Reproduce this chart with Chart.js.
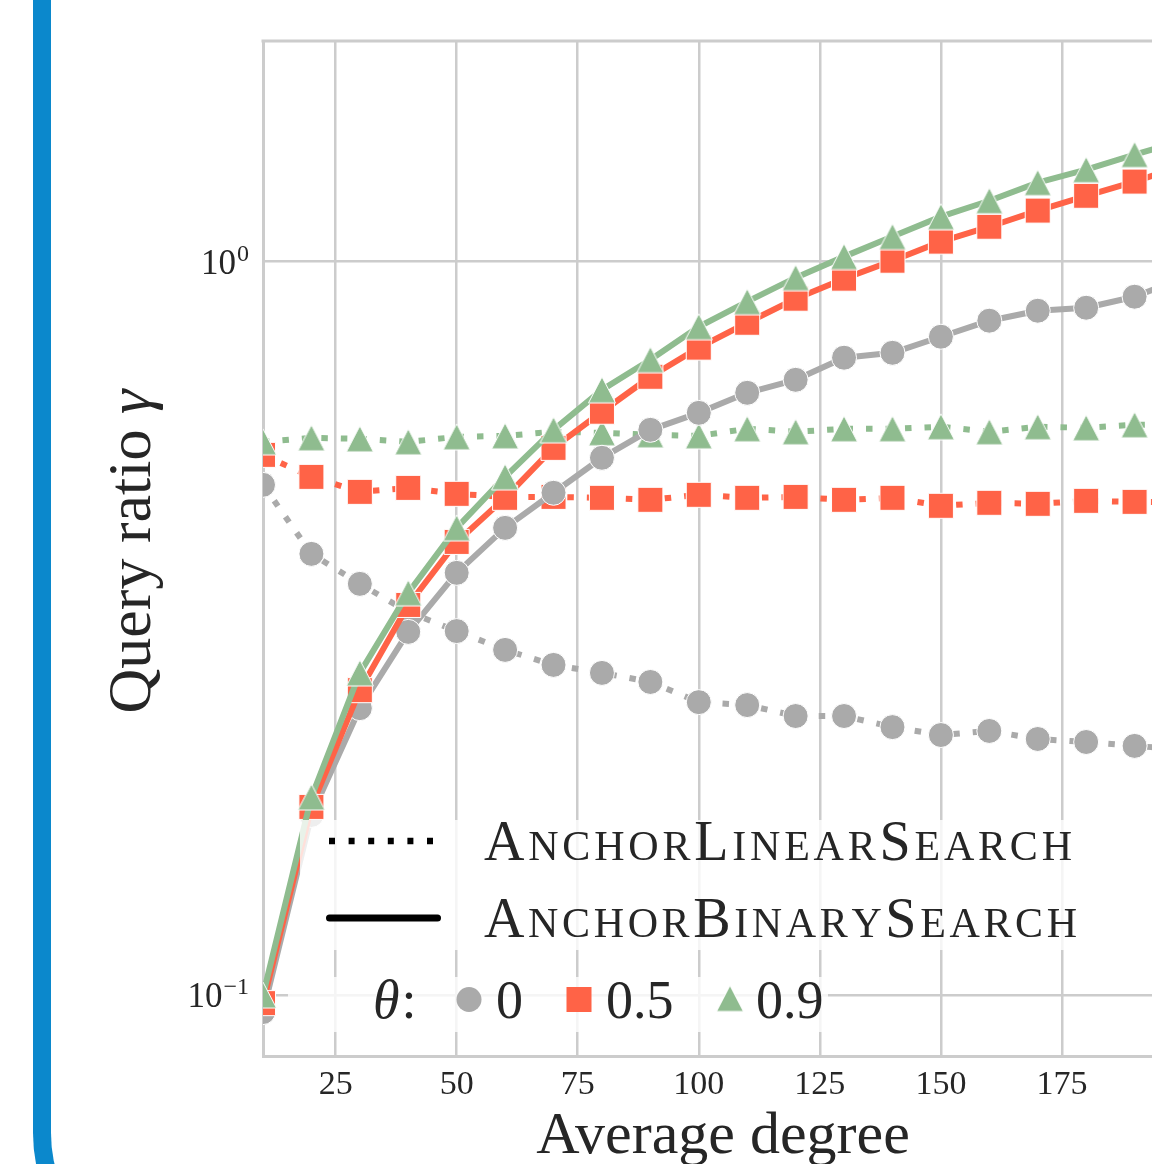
<!DOCTYPE html>
<html>
<head>
<meta charset="utf-8">
<script src="https://cdn.jsdelivr.net/npm/chart.js@4.4.1/dist/chart.umd.min.js"></script>
<style>
  html, body { margin: 0; padding: 0; background: #ffffff; overflow: hidden; width: 1152px; height: 1164px; }
  #frame { position: absolute; left: 33px; top: -40px; width: 1400px; height: 1333px; box-sizing: border-box;
           border-left: 18px solid #0b88cc; border-bottom: 18px solid #0b88cc; border-bottom-left-radius: 160px; }
  #c { position: absolute; left: 0; top: 0; }
</style>
</head>
<body>
<div id="frame"></div>
<canvas id="c" width="1300" height="1200"></canvas>
<script>
// ---------------- data ----------------
const degrees = [10, 20, 30, 40, 50, 60, 70, 80, 90, 100, 110, 120, 130, 140, 150, 160, 170, 180, 190, 200];

// AnchorLinearSearch (dotted)
const linearTheta0  = [0.4961, 0.3994, 0.3635, 0.3328, 0.3134, 0.2954, 0.2818, 0.2748, 0.2671, 0.2507, 0.2484, 0.2400, 0.2400, 0.2318, 0.2261, 0.2290, 0.2233, 0.2212, 0.2185, 0.2160];
const linearTheta05 = [0.5451, 0.5087, 0.4853, 0.4914, 0.4823, 0.4777, 0.4777, 0.4763, 0.4733, 0.4808, 0.4763, 0.4777, 0.4733, 0.4763, 0.4645, 0.4689, 0.4674, 0.4718, 0.4703, 0.4700];
const linearTheta09 = [0.5678, 0.5750, 0.5732, 0.5678, 0.5768, 0.5786, 0.5861, 0.5842, 0.5805, 0.5786, 0.5916, 0.5861, 0.5916, 0.5916, 0.5954, 0.5861, 0.5954, 0.5935, 0.5991, 0.6000];

// AnchorBinarySearch (solid)
const binaryTheta0  = [0.0947, 0.1759, 0.2460, 0.3126, 0.3763, 0.4334, 0.4839, 0.5401, 0.5897, 0.6220, 0.6624, 0.6900, 0.7396, 0.7511, 0.7900, 0.8308, 0.8572, 0.8653, 0.8958, 0.9500];
const binaryTheta05 = [0.0974, 0.1804, 0.2603, 0.3402, 0.4147, 0.4763, 0.5572, 0.6242, 0.6966, 0.7634, 0.8254, 0.8902, 0.9480, 1.0030, 1.0650, 1.1160, 1.1740, 1.2300, 1.2860, 1.3520];
const binaryTheta09 = [0.0999, 0.1861, 0.2748, 0.3534, 0.4334, 0.5087, 0.5897, 0.6686, 0.7349, 0.8152, 0.8819, 0.9510, 1.0160, 1.0820, 1.1520, 1.2110, 1.2820, 1.3350, 1.4000, 1.4630];

const xTickValues = [25, 50, 75, 100, 125, 150, 175, 200];
const yTickValues = [0.1, 1];
const methodLabels = ['AnchorLinearSearch', 'AnchorBinarySearch'];
const thetaLabels = ['0', '0.5', '0.9'];
const xTitle = 'Average degree';
const yTitle = 'Query ratio ';
const yTitleSymbol = 'γ';

// ---------------- styling ----------------
const GRAY = '#aaaaaa', RED = '#ff6347', GREEN = '#8fbc8f';
const TEXT = '#262626';
const FONT = '"Liberation Serif", "Times New Roman", serif';

function makeTriangle(color) {
  const c = document.createElement('canvas');
  c.width = 30; c.height = 28;
  const g = c.getContext('2d');
  g.beginPath();
  g.moveTo(15, 1); g.lineTo(1.5, 27); g.lineTo(28.5, 27); g.closePath();
  g.fillStyle = color; g.fill();
  g.strokeStyle = '#ffffff'; g.lineWidth = 1; g.stroke();
  return c;
}
const triGreen = makeTriangle(GREEN);

function series(label, values, color, style, dotted, order) {
  const isTri = style === 'triangle';
  const r = style === 'rect' ? 17.7 : (isTri ? 14 : 12.5);
  return {
    label: label,
    order: order,
    data: degrees.map((d, i) => ({ x: d, y: values[i] })),
    borderColor: color,
    backgroundColor: color,
    borderWidth: 6,
    borderDash: dotted ? [6.5, 13] : [],
    borderCapStyle: 'butt',
    borderJoinStyle: 'round',
    tension: 0,
    fill: false,
    pointStyle: isTri ? triGreen : style,
    pointRadius: r,
    pointHoverRadius: r,
    pointBackgroundColor: color,
    pointBorderColor: '#ffffff',
    pointBorderWidth: 1
  };
}

const datasets = [
  series('AnchorLinearSearch θ=0',   linearTheta0,  GRAY,  'circle',   true,  6),
  series('AnchorLinearSearch θ=0.5', linearTheta05, RED,   'rect',     true,  5),
  series('AnchorLinearSearch θ=0.9', linearTheta09, GREEN, 'triangle', true,  4),
  series('AnchorBinarySearch θ=0',   binaryTheta0,  GRAY,  'circle',   false, 3),
  series('AnchorBinarySearch θ=0.5', binaryTheta05, RED,   'rect',     false, 2),
  series('AnchorBinarySearch θ=0.9', binaryTheta09, GREEN, 'triangle', false, 1)
];

function drawSmallCaps(ctx, text, x, baseline, targetW, S, ratio) {
  const chars = [...text].map(ch => ({ ch: ch.toUpperCase(), big: ch === ch.toUpperCase() }));
  const fBig = S + 'px ' + FONT, fSmall = (S * ratio) + 'px ' + FONT;
  let nat = 0;
  const ws = chars.map(c => { ctx.font = c.big ? fBig : fSmall; const w = ctx.measureText(c.ch).width; nat += w; return w; });
  const extra = (targetW - nat) / (chars.length - 1);
  let cx = x;
  chars.forEach((c, i) => {
    ctx.font = c.big ? fBig : fSmall;
    ctx.fillText(c.ch, cx, baseline);
    cx += ws[i] + extra;
  });
}

const decor = {
  id: 'decor',
  beforeDatasetsDraw(chart) {
    const { ctx, chartArea } = chart;
    ctx.save();
    ctx.strokeStyle = '#cccccc';
    ctx.lineWidth = 3;
    ctx.beginPath();
    ctx.moveTo(chartArea.left - 1.5, chartArea.top);
    ctx.lineTo(chartArea.right, chartArea.top);
    ctx.stroke();
    ctx.restore();
  },
  afterDraw(chart) {
    const { ctx, chartArea } = chart;
    const yScale = chart.scales.y;
    ctx.save();
    ctx.fillStyle = TEXT;
    ctx.textBaseline = 'alphabetic';

    // y tick labels 10^k
    yTickValues.forEach(v => {
      const py = yScale.getPixelForValue(v);
      const e = Math.round(Math.log10(v));
      const expStr = e < 0 ? '\u2212' + Math.abs(e) : String(e);
      ctx.textAlign = 'right';
      ctx.font = '24px ' + FONT;
      const ew = ctx.measureText(expStr).width;
      ctx.fillText(expStr, 249, py - 1);
      ctx.font = '35px ' + FONT;
      ctx.fillText('10', 249 - ew - 1, py + 12);
    });

    // y axis title
    ctx.save();
    ctx.font = '62px ' + FONT;
    const w1 = ctx.measureText(yTitle).width;
    ctx.font = 'italic 62px ' + FONT;
    const w2 = ctx.measureText(yTitleSymbol).width;
    const cy = (chartArea.top + chartArea.bottom) / 2 + 3;
    ctx.translate(150, cy);
    ctx.rotate(-Math.PI / 2);
    ctx.textAlign = 'left';
    ctx.font = '62px ' + FONT;
    ctx.fillText(yTitle, -(w1 + w2) / 2, 0);
    ctx.font = 'italic 62px ' + FONT;
    ctx.fillText(yTitleSymbol, -(w1 + w2) / 2 + w1, 0);
    ctx.restore();

    // legend boxes
    ctx.fillStyle = 'rgba(255,255,255,0.8)';
    ctx.fillRect(300, 820, 800, 130);
    ctx.fillRect(288, 977, 540, 55);

    // line-style samples
    ctx.strokeStyle = '#000000';
    ctx.lineWidth = 6.5;
    ctx.lineCap = 'butt';
    ctx.setLineDash([6, 13.6]);
    ctx.beginPath(); ctx.moveTo(329, 841); ctx.lineTo(434, 841); ctx.stroke();
    ctx.setLineDash([]);
    ctx.lineWidth = 7;
    ctx.lineCap = 'round';
    ctx.beginPath(); ctx.moveTo(329.5, 918); ctx.lineTo(437.5, 918); ctx.stroke();

    ctx.fillStyle = TEXT;
    ctx.textAlign = 'left';
    drawSmallCaps(ctx, methodLabels[0], 484, 860, 588, 56, 0.75);
    drawSmallCaps(ctx, methodLabels[1], 484, 937, 593, 56, 0.75);

    // theta legend
    ctx.font = 'italic 54px ' + FONT;
    ctx.fillText('θ', 373, 1018);
    const tw = ctx.measureText('θ').width;
    ctx.font = '54px ' + FONT;
    ctx.fillText(':', 373 + tw + 2, 1018);

    ctx.fillStyle = GRAY;
    ctx.beginPath(); ctx.arc(469, 999.5, 12.5, 0, Math.PI * 2); ctx.fill();
    ctx.fillStyle = RED;
    ctx.fillRect(566.5, 987, 25, 25);
    ctx.drawImage(triGreen, 730 - 15, 998.5 - 14);

    ctx.fillStyle = TEXT;
    ctx.font = '54px ' + FONT;
    ctx.fillText(thetaLabels[0], 496, 1018);
    ctx.fillText(thetaLabels[1], 606, 1018);
    ctx.fillText(thetaLabels[2], 756, 1018);
    ctx.restore();
  }
};

new Chart(document.getElementById('c'), {
  type: 'line',
  data: { datasets: datasets },
  plugins: [decor],
  options: {
    responsive: false,
    animation: false,
    devicePixelRatio: 1,
    layout: { padding: { left: 0, top: 41, right: 117, bottom: 0 }, autoPadding: false },
    plugins: { legend: { display: false }, tooltip: { enabled: false } },
    scales: {
      x: {
        type: 'linear',
        min: 10,
        max: 200,
        afterBuildTicks: s => { s.ticks = xTickValues.map(v => ({ value: v })); },
        afterFit: s => { s.height = 144; },
        ticks: {
          autoSkip: false, maxRotation: 0, padding: 9,
          color: TEXT, font: { family: FONT, size: 34 },
          callback: v => String(v)
        },
        grid: { color: '#cccccc', lineWidth: 2.5, drawTicks: false },
        border: { color: '#cccccc', width: 3 },
        title: {
          display: true, text: xTitle, color: TEXT,
          font: { family: FONT, size: 60 },
          padding: { top: 0, bottom: 27 }
        }
      },
      y: {
        type: 'logarithmic',
        min: 0.0825,
        max: 2.0,
        afterBuildTicks: s => { s.ticks = yTickValues.map(v => ({ value: v })); },
        afterFit: s => { s.width = 263; },
        ticks: { display: false },
        grid: { color: '#cccccc', lineWidth: 2.5, drawTicks: false },
        border: { color: '#cccccc', width: 3 }
      }
    }
  }
});
</script>
</body>
</html>
